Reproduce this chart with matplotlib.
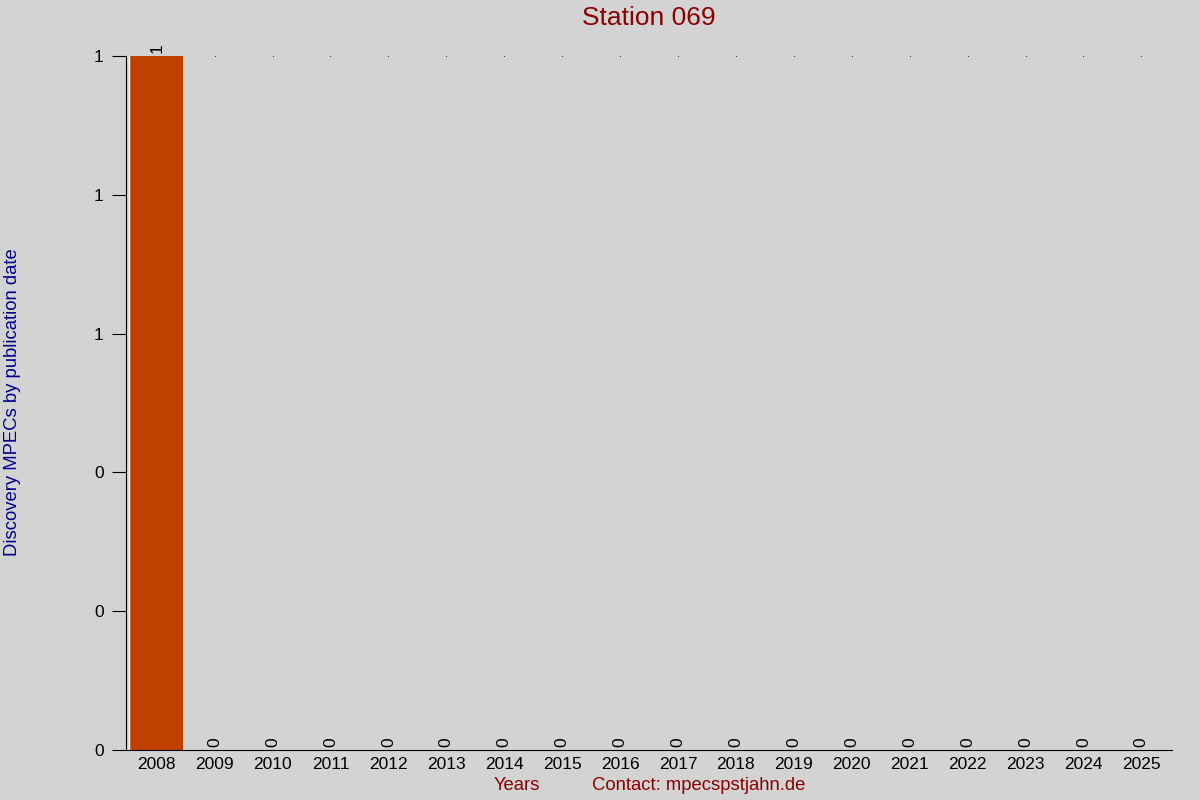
import numpy as np
import matplotlib.pyplot as plt
from matplotlib.ticker import FixedLocator, FuncFormatter

plt.rcParams["font.family"] = ["Liberation Sans", "DejaVu Sans"]

years = [str(y) for y in range(2008, 2026)]
counts = [1, 0, 0, 0, 0, 0, 0, 0, 0, 0, 0, 0, 0, 0, 0, 0, 0, 0]
y_ticks = [0, 0.2, 0.4, 0.6, 0.8, 1.0]

BG = "#d3d3d3"
BAR = "#c04000"
DARKRED = "#8b0000"
DARKBLUE = "#00008b"

fig = plt.figure(figsize=(12, 8), dpi=100, facecolor=BG)
ax = fig.add_axes([0.105, 0.0625, 0.8717, 0.8675], facecolor=BG)

x = np.arange(len(years))
ax.bar(x, counts, width=0.92, color=BAR, edgecolor="none")
ax.set_xlim(-0.53, len(years) - 0.47)
ax.set_ylim(0, 1)

# thin white line on the left edge of the first bar
ax.vlines(-0.47, 0, counts[0], color="white", lw=1)

# tiny dots along the top for empty years
for xi, c in zip(x, counts):
    if c == 0:
        ax.plot(xi, 1, marker="s", ms=0.5, mew=0, color="black", clip_on=False)

for xi, c in zip(x, counts):
    ax.text(xi, c + 0.005, str(c), rotation=90, ha="center", va="bottom",
            fontsize=12.5, color="black", clip_on=False)

ax.set_xticks(x)
ax.set_xticklabels(years, fontsize=12.5)
ax.tick_params(axis="x", length=0, pad=5)
ax.yaxis.set_major_locator(FixedLocator(y_ticks))
ax.yaxis.set_major_formatter(FuncFormatter(lambda v, p: f"{v:.0f}"))
ax.tick_params(axis="y", length=10, pad=6, labelsize=12.5)

for s in ["top", "right"]:
    ax.spines[s].set_visible(False)

fig.text(0.541, 0.993, "Station 069", ha="center", va="top", fontsize=19, color=DARKRED)
fig.text(0.0035, 0.497, "Discovery MPECs by publication date", rotation=90,
         ha="left", va="center", fontsize=13.3, color=DARKBLUE)
fig.text(0.431, 0.018, "Years", ha="center", va="center", fontsize=13.3, color=DARKRED)
fig.text(0.582, 0.018, "Contact: mpecspstjahn.de", ha="center", va="center",
         fontsize=13.3, color=DARKRED)

fig.savefig("out.png", dpi=100, facecolor=BG)
